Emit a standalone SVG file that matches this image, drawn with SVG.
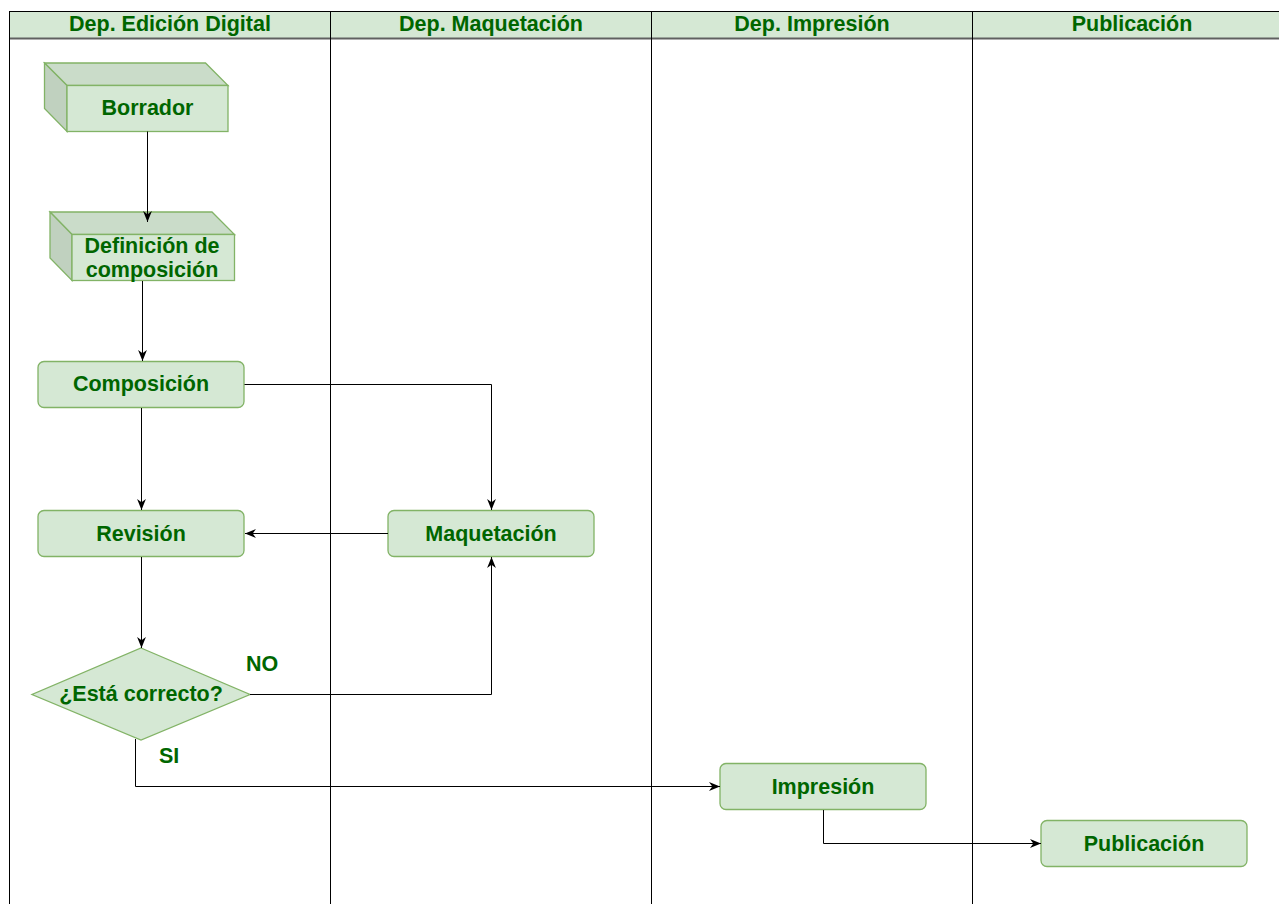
<svg xmlns="http://www.w3.org/2000/svg" width="1279" height="904" viewBox="0 0 1279 904">
  <defs>
    <marker id="arr" viewBox="0 0 10 10" refX="10" refY="5" markerWidth="11" markerHeight="11" markerUnits="userSpaceOnUse" orient="auto">
      <path d="M0,1 L10,5 L0,9 L3,5 z" fill="#000"/>
    </marker>
  </defs>
  <style>
    .t { font-family: "Liberation Sans", Arial, sans-serif; font-weight: bold; font-size: 21.5px; fill: #006600; text-anchor: middle; }
    .hdr { fill: #d5e8d4; stroke: #000; stroke-width: 1; }
    .lane { fill: none; stroke: #000; stroke-width: 1; }
    .box { fill: #d5e8d4; stroke: #82b366; stroke-width: 1.3; }
    .top { fill: #cadcc9; stroke: #82b366; stroke-width: 1.3; }
    .side { fill: #c0d1bf; stroke: #82b366; stroke-width: 1.3; }
    .edge { fill: none; stroke: #000; stroke-width: 1; marker-end: url(#arr); }
    .lbl { font-family: "Liberation Sans", Arial, sans-serif; font-weight: bold; font-size: 21.5px; fill: #006600; }
  </style>
  <rect width="1279" height="904" fill="#ffffff"/>

  <g id="lanes">
    <rect class="hdr" x="9.5" y="11.5" width="1300" height="27"/>
    <line x1="9.5" y1="38.5" x2="1300" y2="38.5" stroke="#606060" stroke-width="2"/>
    <line class="lane" x1="9.5" y1="11" x2="9.5" y2="910"/>
    <line class="lane" x1="330.5" y1="11" x2="330.5" y2="910"/>
    <line class="lane" x1="651.5" y1="11" x2="651.5" y2="910"/>
    <line class="lane" x1="972.5" y1="11" x2="972.5" y2="910"/>
    <text class="t" x="170" y="31">Dep. Edición Digital</text>
    <text class="t" x="491" y="31">Dep. Maquetación</text>
    <text class="t" x="812" y="31">Dep. Impresión</text>
    <text class="t" x="1132" y="31">Publicación</text>
  </g>

  <g id="borrador">
    <polygon class="top" points="44.5,63 205.5,63 228,85.5 67,85.5"/>
    <polygon class="side" points="44.5,63 67,85.5 67,131.5 44.5,108.5"/>
    <rect class="box" x="67" y="85.5" width="161" height="46"/>
    <text class="t" x="147.5" y="115">Borrador</text>
  </g>

  <g id="definicion">
    <polygon class="top" points="50,212 212,212 234.5,234.5 72,234.5"/>
    <polygon class="side" points="50,212 72,234.5 72,280.5 50,258"/>
    <rect class="box" x="72" y="234.5" width="162.5" height="46"/>
    <text class="t" x="152" y="253">Definición de</text>
    <text class="t" x="152" y="277">composición</text>
  </g>

  <g id="composicion">
    <rect class="box" x="38" y="361.5" width="206" height="46" rx="6"/>
    <text class="t" x="141" y="391">Composición</text>
  </g>

  <g id="revision">
    <rect class="box" x="38" y="510.5" width="206" height="46" rx="6"/>
    <text class="t" x="141" y="540.5">Revisión</text>
  </g>

  <g id="maquetacion">
    <rect class="box" x="388" y="510.5" width="206" height="46" rx="6"/>
    <text class="t" x="491" y="540.5">Maquetación</text>
  </g>

  <g id="decision">
    <polygon class="box" points="141,648 250,694.5 141,740 32,694.5"/>
    <text class="t" x="141" y="701">¿Está correcto?</text>
  </g>

  <g id="impresion">
    <rect class="box" x="720" y="763.5" width="206" height="46" rx="6"/>
    <text class="t" x="823" y="794">Impresión</text>
  </g>

  <g id="publicacion">
    <rect class="box" x="1041" y="820.5" width="206" height="46" rx="6"/>
    <text class="t" x="1144" y="851">Publicación</text>
  </g>

  <g id="connectors">
    <path class="edge" d="M147.5,131.5 L147.5,222"/>
    <path class="edge" d="M142.5,281 L142.5,361"/>
    <path class="edge" d="M141.5,408 L141.5,510"/>
    <path class="edge" d="M244.5,384.5 L491.5,384.5 L491.5,510"/>
    <path class="edge" d="M388,533.5 L245,533.5"/>
    <path class="edge" d="M141.5,557 L141.5,648"/>
    <path class="edge" d="M250,694.5 L491.5,694.5 L491.5,557"/>
    <path class="edge" d="M135.5,739 L135.5,786.5 L720,786.5"/>
    <path class="edge" d="M823.5,810 L823.5,843.5 L1041,843.5"/>
    <text class="lbl" x="246" y="671">NO</text>
    <text class="lbl" x="159" y="763">SI</text>
  </g>
</svg>
